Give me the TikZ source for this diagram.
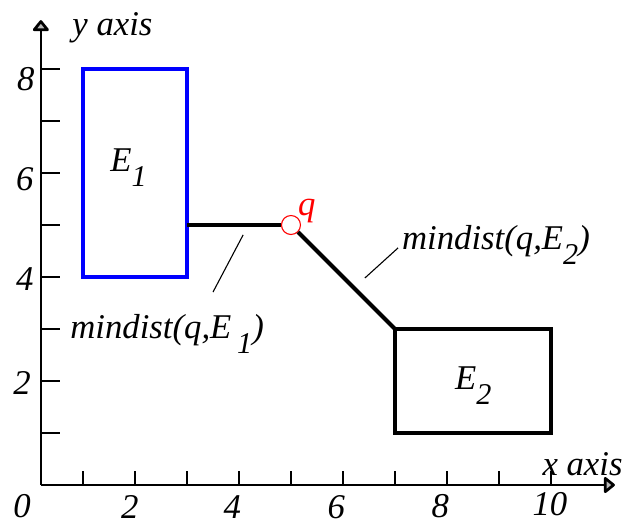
\documentclass[tikz,border=0pt]{standalone}
\usepackage{fontspec}
\setmainfont{Liberation Serif}
\usetikzlibrary{arrows.meta}
\newcommand{\mysub}[1]{\raisebox{-0.42em}{\fontsize{16.5}{16.5}\selectfont #1}}
\begin{document}
\begin{tikzpicture}[x=1cm,y=1cm,
  lbl/.style={font=\fontsize{19}{22}\selectfont\itshape, inner sep=0pt},
  axisline/.style={line width=1.5pt, line join=round, -{Triangle[length=6.5pt,width=10pt,fill=gray!55,line join=round]}},
  tickmark/.style={line width=1.5pt},
  boxone/.style={draw=blue, line width=2.2pt},
  boxtwo/.style={draw=black, line width=2.2pt},
  distline/.style={line width=2.2pt},
  leader/.style={line width=0.6pt},
  qpoint/.style={circle, draw=red, fill=white, line width=0.6pt, inner sep=0pt, minimum size=0.365cm}]
\useasboundingbox (-0.596,-0.75) rectangle (11.558,9.327);
% axes
\coordinate (O) at (0.19,0);
\coordinate (ytip) at (0.19,8.94);
\coordinate (xtip) at (11.23,0);
\draw[axisline] (O) -- (ytip);
\draw[axisline] (O) -- (xtip);
\foreach \y in {1,...,8} \draw[tickmark] (0.19,\y) -- ++(0.365,0);
\foreach \x in {1,...,10} \draw[tickmark] (\x,0) -- ++(0,0.27);
% axis labels
\node[lbl, anchor=base west] (ylab) at (0.79,8.65) {y axis};
\node[lbl, anchor=base west] (xlab) at (9.83,0.19) {x axis};
% tick numbers
\node[lbl] (y8) at (-0.10,7.81) {8};
\node[lbl] (y6) at (-0.12,5.88) {6};
\node[lbl] (y4) at (-0.12,3.96) {4};
\node[lbl] (y2) at (-0.17,1.96) {2};
\node[lbl] (x0) at (-0.17,-0.41) {0};
\node[lbl] (x2) at (1.90,-0.42) {2};
\node[lbl] (x4) at (3.87,-0.43) {4};
\node[lbl] (x6) at (5.87,-0.42) {6};
\node[lbl] (x8) at (7.87,-0.40) {8};
\node[lbl] (x10) at (9.98,-0.37) {10};
% rectangles
\coordinate (E1a) at (1,4); \coordinate (E1b) at (3,8);
\draw[boxone] (E1a) rectangle (E1b);
\coordinate (E2a) at (7,1); \coordinate (E2b) at (10,3);
\draw[boxtwo] (E2a) rectangle (E2b);
\node[lbl, anchor=base west] (e1) at (1.52,6.02) {E\mysub{1}};
\node[lbl, anchor=base west] (e2) at (8.15,1.83) {E\mysub{2}};
% distances
\coordinate (p1) at (3,5);
\coordinate (p2) at (7,3);
\node[qpoint] (q) at (5,5) {};
\draw[distline] (p1) -- (q);
\draw[distline] (q) -- (p2);
\node[lbl, anchor=base west, text=red] (qlab) at (5.13,5.19) {q};
% leaders and labels
\node[lbl, anchor=base west] (m1) at (0.75,2.81) {mindist(q,E\,\mysub{1})};
\node[lbl, anchor=base west] (m2) at (7.13,4.52) {mindist(q,E\mysub{2})};
\coordinate (l1a) at (4.08,4.81); \coordinate (l1b) at (3.5,3.71);
\coordinate (l2a) at (6.42,3.98); \coordinate (l2b) at (7.06,4.56);
\draw[leader] (l1a) -- (l1b);
\draw[leader] (l2a) -- (l2b);
\end{tikzpicture}
\end{document}
